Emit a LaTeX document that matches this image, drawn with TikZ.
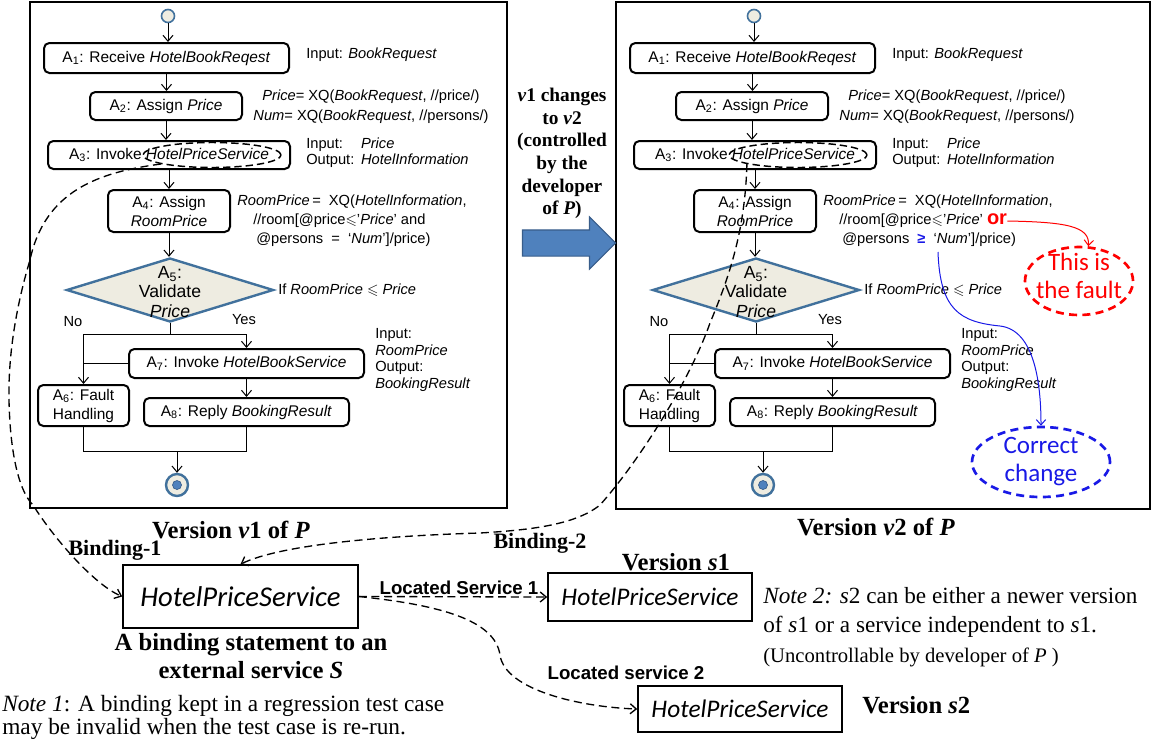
\documentclass[tikz,border=0pt]{standalone}
\usepackage{amssymb}
\usepackage{fontspec}
\setmainfont{Liberation Serif}
\newfontfamily\calf{Carlito}
\newfontfamily\arf{Liberation Sans}
\usetikzlibrary{shapes.geometric,shapes.arrows,arrows.meta}
\newlength{\pxu}\setlength{\pxu}{0.75pt}
\definecolor{dblue}{HTML}{41719C}
\definecolor{beige}{HTML}{EEECE1}
\definecolor{oblue}{HTML}{4F81BD}
\definecolor{oblueb}{HTML}{385D8A}
\definecolor{cblue}{RGB}{25,25,230}
\definecolor{fred}{RGB}{255,0,0}
\tikzset{
  frame/.style={draw, line width=1.6pt, inner sep=0pt},
  act/.style={draw, line width=1.5pt, rounded corners=4pt, inner sep=0pt, align=center,
    font=\arf\fontsize{11.6pt}{14.25pt}\selectfont},
  ann/.style={inner sep=0pt, align=left, font=\arf\fontsize{11pt}{12.5pt}\selectfont},
  startc/.style={circle, draw=dblue, fill=beige, line width=1.2pt, minimum size=13\pxu, inner sep=0pt},
  endc/.style={circle, draw=dblue, fill=beige, line width=1.8pt, minimum size=22\pxu, inner sep=0pt},
  enddot/.style={circle, draw=oblueb, fill=oblue, line width=0.5pt, minimum size=9\pxu, inner sep=0pt},
  dia/.style={diamond, draw=dblue, fill=beige, line width=1.8pt, minimum width=207\pxu,
    minimum height=64\pxu, inner sep=0pt},
  diatext/.style={inner sep=0pt, align=center, font=\arf\fontsize{13.2pt}{14.6pt}\selectfont},
  hpsell/.style={draw, ellipse, dash pattern=on 5.5pt off 3pt, line width=1.1pt,
    minimum width=138\pxu, minimum height=25\pxu, inner sep=0pt},
  flowline/.style={line width=0.75pt},
  flowarrow/.style={line width=0.75pt, -{Straight Barb[length=4.5pt,width=7.5pt]}},
  bind/.style={dash pattern=on 6pt off 3.5pt, line width=1pt, -{Straight Barb[length=4.5pt,width=7.5pt]}},
  svc/.style={draw, line width=1.2pt, inner sep=0pt, font=\calf\itshape\fontsize{19pt}{20pt}\selectfont},
  head/.style={inner sep=0pt, align=center, font=\bfseries\fontsize{18.5pt}{21pt}\selectfont},
  lab/.style={inner sep=0pt, font=\bfseries\fontsize{16.5pt}{18pt}\selectfont},
  loc/.style={inner sep=0pt, font=\arf\bfseries\fontsize{14pt}{16pt}\selectfont},
  note/.style={inner sep=0pt, align=left, font=\fontsize{17.5pt}{17pt}\selectfont},
  chg/.style={inner sep=0pt, align=center, font=\bfseries\fontsize{14.5pt}{17pt}\selectfont},
  faultell/.style={draw=fred, ellipse, dash pattern=on 6pt off 4pt, line width=2pt,
    minimum width=108\pxu, minimum height=68\pxu, inner sep=0pt},
  correll/.style={draw=cblue, ellipse, dash pattern=on 6pt off 4pt, line width=2pt,
    minimum width=138\pxu, minimum height=70\pxu, inner sep=0pt},
  bigtext/.style={inner sep=0pt, align=center, font=\calf\fontsize{18.75pt}{20.5pt}\selectfont},
  redarr/.style={draw=fred, line width=0.75pt, -{Straight Barb[length=4pt,width=7pt]}},
  bluearr/.style={draw=cblue, line width=0.75pt, -{Straight Barb[length=4pt,width=7pt]}},
}
\newcommand{\flowchart}[3]{%
  \node[startc] (#1s) at (168,16) {};
  \node[act, minimum width=245\pxu, minimum height=30\pxu] (#1A1) at (166.5,58) {A\textsubscript{1}: Receive \textit{HotelBookReqest}};
  \node[act, minimum width=152\pxu, minimum height=28\pxu] (#1A2) at (166,106) {A\textsubscript{2}: Assign \textit{Price}};
  \node[act, minimum width=242\pxu, minimum height=28\pxu] (#1A3) at (169,155) {A\textsubscript{3}: Invoke \textit{HotelPriceService}};
  \node[hpsell] (#1ell) at (212,155) {};
  \node[act, minimum width=122\pxu, minimum height=42\pxu] (#1A4) at (169,211) {A\textsubscript{4}: Assign\\\textit{RoomPrice}};
  \node[dia] (#1D) at (170,290) {};
  \node[diatext] (#1Dt) at (170,292) {A\textsubscript{5}:\\Validate\\\textit{Price}};
  \node[act, minimum width=235\pxu, minimum height=29\pxu] (#1A7) at (246.5,363.5) {A\textsubscript{7}: Invoke \textit{HotelBookService}};
  \node[act, minimum width=91\pxu, minimum height=41\pxu] (#1A6) at (83.5,405.5) {A\textsubscript{6}: Fault\\Handling};
  \node[act, minimum width=205\pxu, minimum height=28\pxu] (#1A8) at (246.5,412) {A\textsubscript{8}: Reply \textit{BookingResult}};
  \node[endc] (#1e) at (177,485) {};
  \node[enddot] (#1ed) at (177,485) {};
  \draw[flowarrow] (#1s) -- (#1s |- #1A1.north);
  \draw[flowarrow] (#1A1.south) -- (#1A1.south |- #1A2.north);
  \draw[flowarrow] (#1A2.south) -- (#1A2.south |- #1A3.north);
  \draw[flowarrow] (#1A3.south) -- (#1A4.north);
  \draw[flowarrow] (#1A4.south) -- (#1A4.south |- #1D.north);
  \coordinate (#1sp) at (170,334);
  \draw[flowline] (#1D.south) -- (#1sp);
  \draw[flowarrow] (#1sp) -| (#1A7.north);
  \draw[flowarrow] (#1sp) -| (#1A6.north);
  \draw[flowline] (#1A7.west) -- (#1A7.west -| #1A6.north);
  \draw[flowarrow] (#1A7.south) -- (#1A8.north);
  \coordinate (#1j) at (177,451);
  \draw[flowline] (#1A6.south) |- (#1j);
  \draw[flowline] (#1A8.south) |- (#1j);
  \draw[flowarrow] (#1j) -- (#1e);
  \node[ann, anchor=west] (#1n1) at (306,55) {Input: \textit{BookRequest}};
  \node[ann, align=center, font=\arf\fontsize{11pt}{15pt}\selectfont] (#1n2) at (371,107)
    {\textit{Price}= XQ(\textit{BookRequest}, //price/)\\\textit{Num}= XQ(\textit{BookRequest}, //persons/)};
  \node[ann, anchor=west, font=\arf\fontsize{11pt}{12pt}\selectfont] (#1n3) at (306,153)
    {\begin{tabular}{@{}l@{\hspace{5pt}}l@{}}Input: & \textit{Price}\\Output: & \textit{HotelInformation}\end{tabular}};
  \node[ann, anchor=west] (#1l1) at (237,202) {\textit{RoomPrice}\,= \ XQ(\textit{HotelInformation},};
  \node[ann, anchor=west] (#1l2) at (253,221) {//room[@price$\leqslant$’\textit{Price}’ #2};
  \node[ann, anchor=west] (#1l3) at (256,240) {@persons#3‘\textit{Num}’]/price)};
  \node[ann, anchor=west] (#1n5) at (278,290) {If \textit{RoomPrice} $\leqslant$ \textit{Price}};
  \node[ann] (#1no) at (73,322) {No};
  \node[ann] (#1yes) at (244,320) {Yes};
  \node[ann, anchor=north west] (#1n6) at (375,328) {Input:\\\textit{RoomPrice}\\Output:\\\textit{BookingResult}};
}
\begin{document}
\begin{tikzpicture}[x=0.75pt,y=-0.75pt]
\useasboundingbox (0,0) rectangle (1152,740);
\node[frame, minimum width=477\pxu, minimum height=506\pxu] (Lframe) at (268.5,255) {};
\node[frame, minimum width=534\pxu, minimum height=507\pxu] (Rframe) at (883,255.5) {};
\flowchart{L}{and}{\ \ =\ \ }
\begin{scope}[shift={(586,0)}]
\flowchart{R}{\textcolor{fred}{\bfseries\fontsize{15pt}{15pt}\selectfont or}}{\ \ \textcolor{cblue}{\bfseries ≥}\ \ }
\end{scope}
% fault and correct change
\node[faultell] (fault) at (1079,281) {};
\node[bigtext, text=fred] (faultt) at (1079,276) {This is\\the fault};
\node[correll] (correct) at (1041,462) {};
\node[bigtext, text=cblue] (correctt) at (1041,461.5) {Correct\\change};
\draw[redarr] (Rl2.east) .. controls (1065,222) and (1090,226) .. (fault.75);
\coordinate (cs) at (938,252);
\draw[bluearr] (cs) .. controls (940,310) and (960,322) .. (1000,326) .. controls (1035,330) and (1041,385) .. (correct.north);
% middle
\node[chg] (chg) at (562,153.5) {\textit{v}1 changes\\to \textit{v}2\\(controlled\\by the\\developer\\of \textit{P})};
\node[single arrow, fill=oblue, draw=oblueb, line width=0.8pt, minimum height=93\pxu,
  single arrow head extend=13\pxu, single arrow head indent=0pt, inner xsep=0pt, inner ysep=12.5\pxu] (bigarr) at (562.5,243) {};
% bottom
\node[svc, minimum width=235\pxu, minimum height=63\pxu, font=\calf\itshape\fontsize{21.5pt}{22pt}\selectfont] (hps) at (240.5,596.5) {HotelPriceService};
\node[svc, minimum width=204\pxu, minimum height=48\pxu] (s1) at (650,597) {HotelPriceService};
\node[svc, minimum width=204\pxu, minimum height=46\pxu] (s2) at (740,709) {HotelPriceService};
\draw[bind] (Lell.190) .. controls (100,172) and (45,190) .. (30,260) .. controls (18,300) and (8,350) .. (9,400)
  .. controls (10,450) and (18,490) .. (33,505) .. controls (55,540) and (95,585) .. (hps.west);
\draw[bind] (Rell.190) .. controls (745,230) and (730,275) .. (710,323) .. controls (690,380) and (640,460) .. (600,505)
  .. controls (575,525) and (530,530) .. (480,533) .. controls (380,536) and (280,545) .. (hps.north);
\draw[bind] (hps.east) -- (s1.west);
\draw[bind] (hps.east) .. controls (440,605) and (495,620) .. (500,655) .. controls (505,690) and (580,707) .. (s2.west);
\node[loc] (ls1) at (459,588) {Located Service 1};
\node[loc] (ls2) at (626,673) {Located service 2};
\node[lab] (b1) at (115,550) {Binding-1};
\node[lab] (b2) at (540,543) {Binding-2};
\node[head] (v1) at (231,530) {Version \textit{v}1 of \textit{P}};
\node[head] (v2) at (876,527) {Version \textit{v}2 of \textit{P}};
\node[head] (vs1) at (676,562) {Version \textit{s}1};
\node[head, anchor=west] (vs2) at (862,705) {Version \textit{s}2};
\node[head] (bst) at (251,656) {A binding statement to an\\external service \textit{S}};
\node[note, anchor=north west] (note1) at (2,695) {\textit{Note 1}: A binding kept in a regression test case\\may be invalid when the test case is re-run.};
\node[note, anchor=north west, font=\fontsize{17.4pt}{22pt}\selectfont] (note2) at (763,587) {\textit{Note 2: s}2 can be either a newer version\\of \textit{s}1 or a service independent to \textit{s}1.\\{\fontsize{15.5pt}{17pt}\selectfont (Uncontrollable by developer of \textit{P} )}};
\end{tikzpicture}
\end{document}
